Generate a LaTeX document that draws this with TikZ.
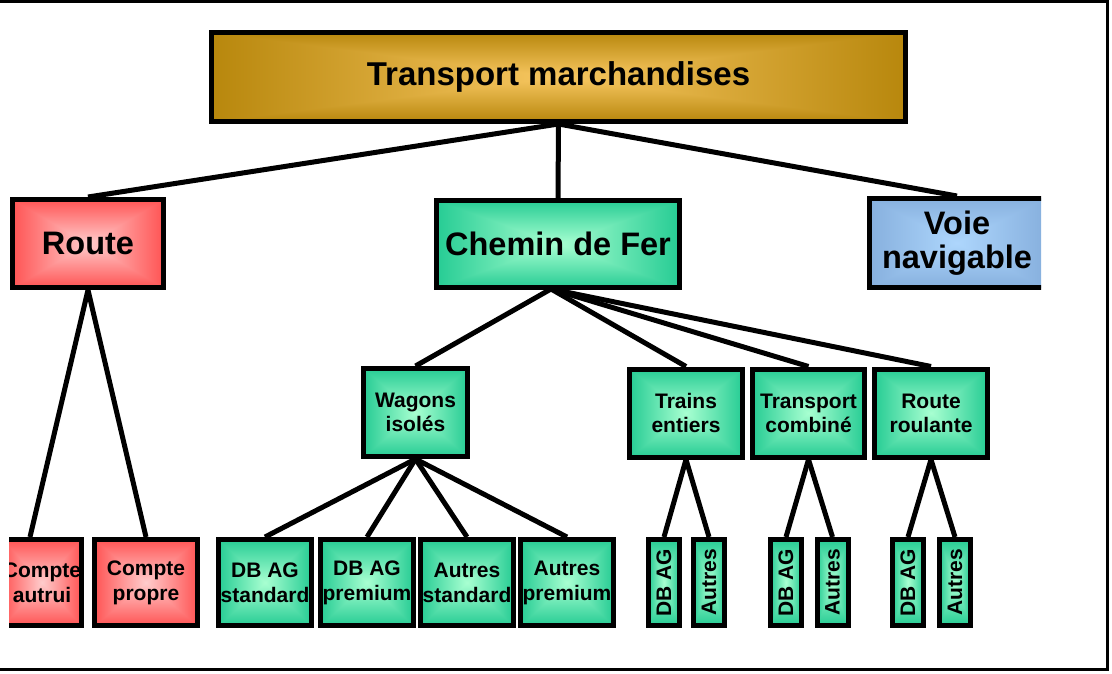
\documentclass[tikz,border=0pt]{standalone}
\usepackage{fontspec}
\setmainfont{Liberation Sans}
\usepackage{graphicx}
\newcommand\mkrectshade[7]{%
 \pgfdeclarefunctionalshading{#1}{\pgfpoint{-50bp}{-50bp}}{\pgfpoint{50bp}{50bp}}{}{%
  abs exch abs 2 copy lt {exch} if pop 25 div dup 1 gt {pop 1} if
  dup dup #5 #2 sub mul #2 add exch #6 #3 sub mul #3 add 3 2 roll #7 #4 sub mul #4 add}}
\mkrectshade{goldshade}{0.97}{0.78}{0.38}{0.72}{0.53}{0.05}
\mkrectshade{redshade}{1.0}{0.80}{0.80}{1.0}{0.33}{0.33}
\mkrectshade{greenshade}{0.66}{1.0}{0.82}{0.15}{0.80}{0.58}
\mkrectshade{blueshade}{0.68}{0.84}{0.99}{0.53}{0.69}{0.87}
\pgfdeclarelayer{bg}
\pgfsetlayers{bg,main}
\begin{document}
\begin{tikzpicture}[x=1pt,y=-1pt,
  box/.style={draw=black, line width=5pt, inner sep=0pt, align=center, shade},
  gold/.style={box, shading=goldshade},
  red/.style={box, shading=redshade},
  green/.style={box, shading=greenshade},
  blue/.style={box, shading=blueshade},
  big/.style={font=\fontsize{32.5}{34}\selectfont\bfseries},
  mid/.style={font=\fontsize{21}{24}\selectfont\bfseries},
  small/.style={font=\fontsize{21}{25}\selectfont\bfseries},
  lvl2/.style={minimum height=88pt},
  lvl3/.style={green, mid, minimum height=88pt},
  lvl4/.style={small, minimum height=86pt},
  leaf/.style={green, small, minimum width=31pt, minimum height=86pt},
  conn/.style={line width=5pt, draw=black}]
\useasboundingbox (0,0) rectangle (1112,674);
\draw[line width=3pt] (0,1.5) -- (1107.5,1.5) -- (1107.5,669.5) -- (0,669.5);
\begin{scope}
\clip (9,5) rectangle (1041,660);
% level 1
\node[gold, font=\fontsize{33}{36}\selectfont\bfseries, minimum width=694pt, minimum height=89pt] (top) at (558.5,77) {Transport marchandises};
% level 2
\node[red, big, lvl2, minimum width=151pt] (route) at (88,243.5) {Route};
\node[green, big, lvl2, minimum width=243pt, minimum height=87pt] (chemin) at (558,244) {Chemin de Fer};
\node[blue, big, lvl2, minimum width=175pt, minimum height=89pt] (voie) at (957,243) {Voie\\navigable};
\coordinate (cf) at (551,289);
% level 3
\node[lvl3, minimum width=104pt] (wagons) at (415.5,412.5) {Wagons\\isolés};
\node[lvl3, minimum width=113pt] (trains) at (686,413) {Trains\\entiers};
\node[lvl3, minimum width=112pt] (combi) at (808.5,413) {Transport\\combiné};
\node[lvl3, minimum width=113pt] (roul) at (931,413) {Route\\roulante};
% level 4
\node[red, lvl4, minimum width=75pt] (autrui) at (42,582.5) {Compte\\autrui};
\node[red, lvl4, minimum width=103pt] (propre) at (146,582.5) {Compte\\propre};
\node[green, lvl4, minimum width=93pt] (dbstd) at (265,582.5) {DB AG\\standard};
\node[green, lvl4, minimum width=93pt] (dbprem) at (367,582.5) {DB AG\\premium};
\node[green, lvl4, minimum width=93pt] (austd) at (467,582.5) {Autres\\standard};
\node[green, lvl4, minimum width=93pt] (auprem) at (567,582.5) {Autres\\premium};
\node[leaf] (tdb) at (664,582.5) {\rotatebox{90}{DB AG}};
\node[leaf] (tau) at (709,582.5) {\rotatebox{90}{Autres}};
\node[leaf] (cdb) at (786,582.5) {\rotatebox{90}{DB AG}};
\node[leaf] (cau) at (832.5,582.5) {\rotatebox{90}{Autres}};
\node[leaf] (rdb) at (908,582.5) {\rotatebox{90}{DB AG}};
\node[leaf] (rau) at (955,582.5) {\rotatebox{90}{Autres}};
\end{scope}
\begin{pgfonlayer}{bg}
\draw[conn] (top.south) -- (route.north);
\draw[conn] (top.south) -- (chemin.north);
\draw[conn] (top.south) -- (voie.north);
\draw[conn] (route.south) -- ([xshift=-12pt]autrui.north);
\draw[conn] (route.south) -- (propre.north);
\draw[conn] (cf) -- (wagons.north);
\draw[conn] (cf) -- (trains.north);
\draw[conn] (cf) -- (combi.north);
\draw[conn] (cf) -- (roul.north);
\draw[conn] (wagons.south) -- (dbstd.north);
\draw[conn] (wagons.south) -- (dbprem.north);
\draw[conn] (wagons.south) -- (austd.north);
\draw[conn] (wagons.south) -- (auprem.north);
\draw[conn] (trains.south) -- (tdb.north);
\draw[conn] (trains.south) -- (tau.north);
\draw[conn] (combi.south) -- (cdb.north);
\draw[conn] (combi.south) -- (cau.north);
\draw[conn] (roul.south) -- (rdb.north);
\draw[conn] (roul.south) -- (rau.north);
\end{pgfonlayer}
\end{tikzpicture}
\end{document}
